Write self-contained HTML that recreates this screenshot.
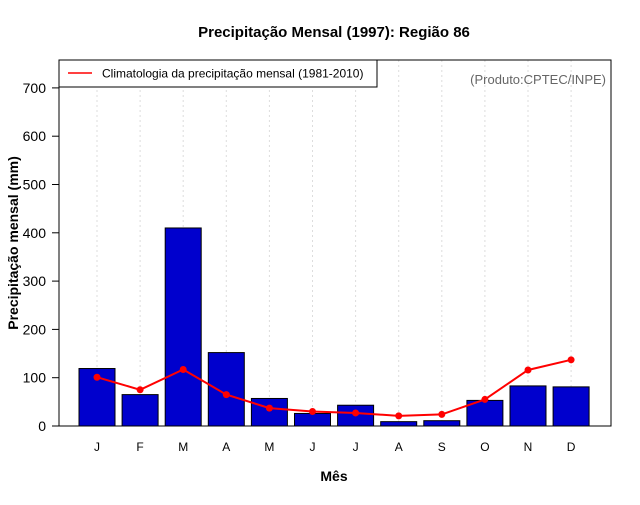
<!DOCTYPE html>
<html><head><meta charset="utf-8"><style>
body{margin:0;background:#fff}
svg text{font-family:"Liberation Sans",sans-serif}
</style></head><body>
<svg id="c" width="640" height="500" xmlns="http://www.w3.org/2000/svg">
<rect width="640" height="500" fill="#fff"/>
<text x="334" y="37" text-anchor="middle" font-size="15" font-weight="bold">Precipitação Mensal (1997): Região 86</text>
<g id="grid"></g>
<g id="bars"></g>
<g id="line"></g>
<rect x="59" y="60" width="552" height="366" fill="none" stroke="#000"/>
<g id="yax"></g>
<g id="xax"></g>
<text x="18" y="243" transform="rotate(-90 18 243)" text-anchor="middle" font-size="14" font-weight="bold">Precipitação mensal (mm)</text>
<text x="334" y="481" text-anchor="middle" font-size="14" font-weight="bold">Mês</text>
<text x="606" y="84" text-anchor="end" font-size="13" fill="#666">(Produto:CPTEC/INPE)</text>
<g>
<rect x="59" y="60" width="318" height="27" fill="#fff" stroke="#000"/>
<line x1="68" y1="73" x2="92" y2="73" stroke="red" stroke-width="1.5"/>
<text x="102" y="77.5" font-size="12">Climatologia da precipitação mensal (1981-2010)</text>
</g>
</svg>
<script>
const months=["J","F","M","A","M","J","J","A","S","O","N","D"];
const precip=[119,65,410,152,57,26,43,9,11,53,83,81];
const clim=[101,75,117,65,37,30,27,21,24,55,116,137];
const yTicks=[0,100,200,300,400,500,600,700];
const NS="http://www.w3.org/2000/svg";
const x=i=>97+i*43.1;
const y=v=>426-v*0.483;
function mk(t,a,p){const e=document.createElementNS(NS,t);for(const k in a)e.setAttribute(k,a[k]);document.getElementById(p).appendChild(e);return e;}
months.forEach((m,i)=>{
 const g=mk("line",{x1:x(i),x2:x(i),y1:60,y2:426,stroke:"#ddd","stroke-dasharray":"2,3"},"grid");
 
 
 const b=mk("rect",{x:x(i)-18,y:y(precip[i]),width:36,height:426-y(precip[i]),fill:"#0000cd",stroke:"#000"},"bars");
 
 
 const t=mk("text",{x:x(i),y:451,"text-anchor":"middle","font-size":"12"},"xax");t.textContent=m;
 
 
});
const pl=mk("polyline",{points:clim.map((v,i)=>x(i)+","+y(v)).join(" "),fill:"none",stroke:"red","stroke-width":2},"line");


clim.forEach((v,i)=>{const c=mk("circle",{cx:x(i),cy:y(v),r:3.5,fill:"red"},"line");
 
 });
mk("line",{x1:59,x2:59,y1:y(0),y2:y(700),stroke:"#000"},"yax");
yTicks.forEach(v=>{mk("line",{x1:52,x2:59,y1:y(v),y2:y(v),stroke:"#000"},"yax");
 const t=mk("text",{x:46,y:y(v)+5,"text-anchor":"end","font-size":"14"},"yax");t.textContent=v;
 
 });
</script>
</body></html>
